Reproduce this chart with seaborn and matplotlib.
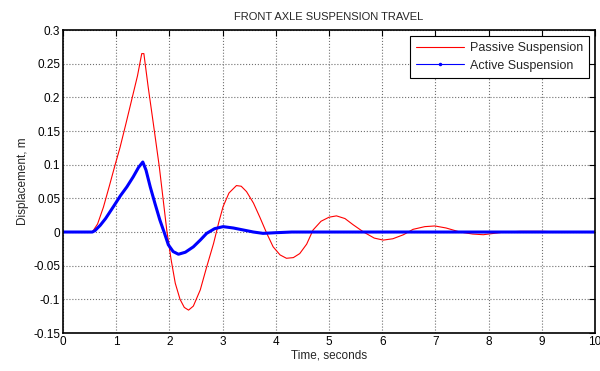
import matplotlib
matplotlib.use('Agg')
import matplotlib.pyplot as plt
import seaborn as sns
import pandas as pd
from matplotlib.lines import Line2D

# --- Data ---
passive_t = [0, 0.5, 0.56, 0.65, 0.76, 0.87, 0.98, 1.07, 1.18, 1.29, 1.40, 1.48, 1.52,
             1.60, 1.70, 1.81, 1.95, 2.03, 2.11, 2.20, 2.28, 2.36, 2.45, 2.58, 2.70,
             2.83, 2.93, 3.01, 3.12, 3.26, 3.35, 3.45, 3.58, 3.70, 3.83, 3.95, 4.08,
             4.20, 4.33, 4.45, 4.58, 4.70, 4.85, 5.00, 5.14, 5.30, 5.45, 5.65, 5.85,
             6.02, 6.20, 6.40, 6.58, 6.80, 6.99, 7.20, 7.46, 7.70, 7.90, 8.10, 8.30,
             8.60, 9.00, 9.40, 9.70, 10.0]
passive_y = [0, 0, 0.001, 0.012, 0.037, 0.068, 0.100, 0.125, 0.160, 0.196, 0.232, 0.265, 0.265,
             0.216, 0.160, 0.097, 0.003, -0.040, -0.076, -0.100, -0.112, -0.116, -0.110, -0.086, -0.052,
             -0.017, 0.015, 0.038, 0.058, 0.069, 0.068, 0.060, 0.043, 0.022, -0.002, -0.022, -0.034,
             -0.039, -0.038, -0.032, -0.018, 0.003, 0.016, 0.022, 0.024, 0.020, 0.011, 0.000, -0.009,
             -0.012, -0.010, -0.004, 0.004, 0.008, 0.009, 0.006, 0.000, -0.003, -0.004, -0.002, 0.000,
             0.001, 0.001, 0.000, 0.000, 0.0]

active_t = [0, 0.55, 0.60, 0.70, 0.80, 0.95, 1.08, 1.20, 1.32, 1.42, 1.50, 1.56, 1.64,
            1.73, 1.82, 1.90, 1.98, 2.07, 2.17, 2.30, 2.45, 2.58, 2.70, 2.85, 3.01,
            3.20, 3.39, 3.58, 3.76, 4.00, 4.30, 5.0, 6.0, 7.0, 8.0, 9.0, 10.0]
active_y = [0, 0, 0.002, 0.010, 0.020, 0.038, 0.054, 0.067, 0.082, 0.096, 0.104, 0.092, 0.067,
            0.042, 0.018, 0.000, -0.019, -0.029, -0.033, -0.030, -0.022, -0.012, -0.002, 0.005, 0.008,
            0.006, 0.003, 0.000, -0.002, -0.001, 0.000, 0.0, 0.0, 0.0, 0.0, 0.0, 0.0]

x_ticks = [0, 1, 2, 3, 4, 5, 6, 7, 8, 9, 10]
y_ticks = [-0.15, -0.1, -0.05, 0, 0.05, 0.1, 0.15, 0.2, 0.25, 0.3]
y_tick_labels = ['-0.15', '-0.1', '-0.05', '0', '0.05', '0.1', '0.15', '0.2', '0.25', '0.3']

# --- Setup ---
sns.set_style('white')
plt.rcParams['font.family'] = ['Liberation Sans', 'DejaVu Sans']

passive = pd.DataFrame({'t': passive_t, 'y': passive_y})
active = pd.DataFrame({'t': active_t, 'y': active_y})

fig = plt.figure(figsize=(6, 3.71), dpi=100)
ax = fig.add_axes([0.105, 0.1024, 0.8867, 0.8166])

sns.lineplot(data=passive, x='t', y='y', sort=False, color='#ff0000', lw=0.8, ax=ax)
sns.lineplot(data=active, x='t', y='y', sort=False, color='#0000ff', lw=2.2, ax=ax)

ax.set_xlim(0, 10)
ax.set_ylim(-0.15, 0.3)
ax.set_xticks(x_ticks)
ax.set_yticks(y_ticks)
ax.set_yticklabels(y_tick_labels)
ax.tick_params(direction='in', top=True, right=True, labelsize=8.5, length=4,
               width=0.8, pad=2, colors='black')
ax.grid(True, color='#707070', linestyle=':', linewidth=0.8)
for s in ax.spines.values():
    s.set_color('black')
    s.set_linewidth(1.2)

ax.set_title('FRONT AXLE SUSPENSION TRAVEL', fontsize=8, pad=7)
ax.set_xlabel('Time, seconds', fontsize=8.5, labelpad=1)
ax.set_ylabel('Displacement, m', fontsize=8.5, labelpad=3)

handles = [Line2D([], [], color='#ff0000', lw=0.8),
           Line2D([], [], color='#0000ff', lw=0.8, marker='.', markersize=3)]
leg = ax.legend(handles, ['Passive Suspension', 'Active Suspension'], loc='upper right',
                fontsize=9, fancybox=False, framealpha=1, edgecolor='black',
                handlelength=3.8, borderaxespad=0.45, labelspacing=0.45, borderpad=0.5,
                handletextpad=0.5)
leg.get_frame().set_linewidth(0.8)

plt.savefig('out.png', dpi=100)
